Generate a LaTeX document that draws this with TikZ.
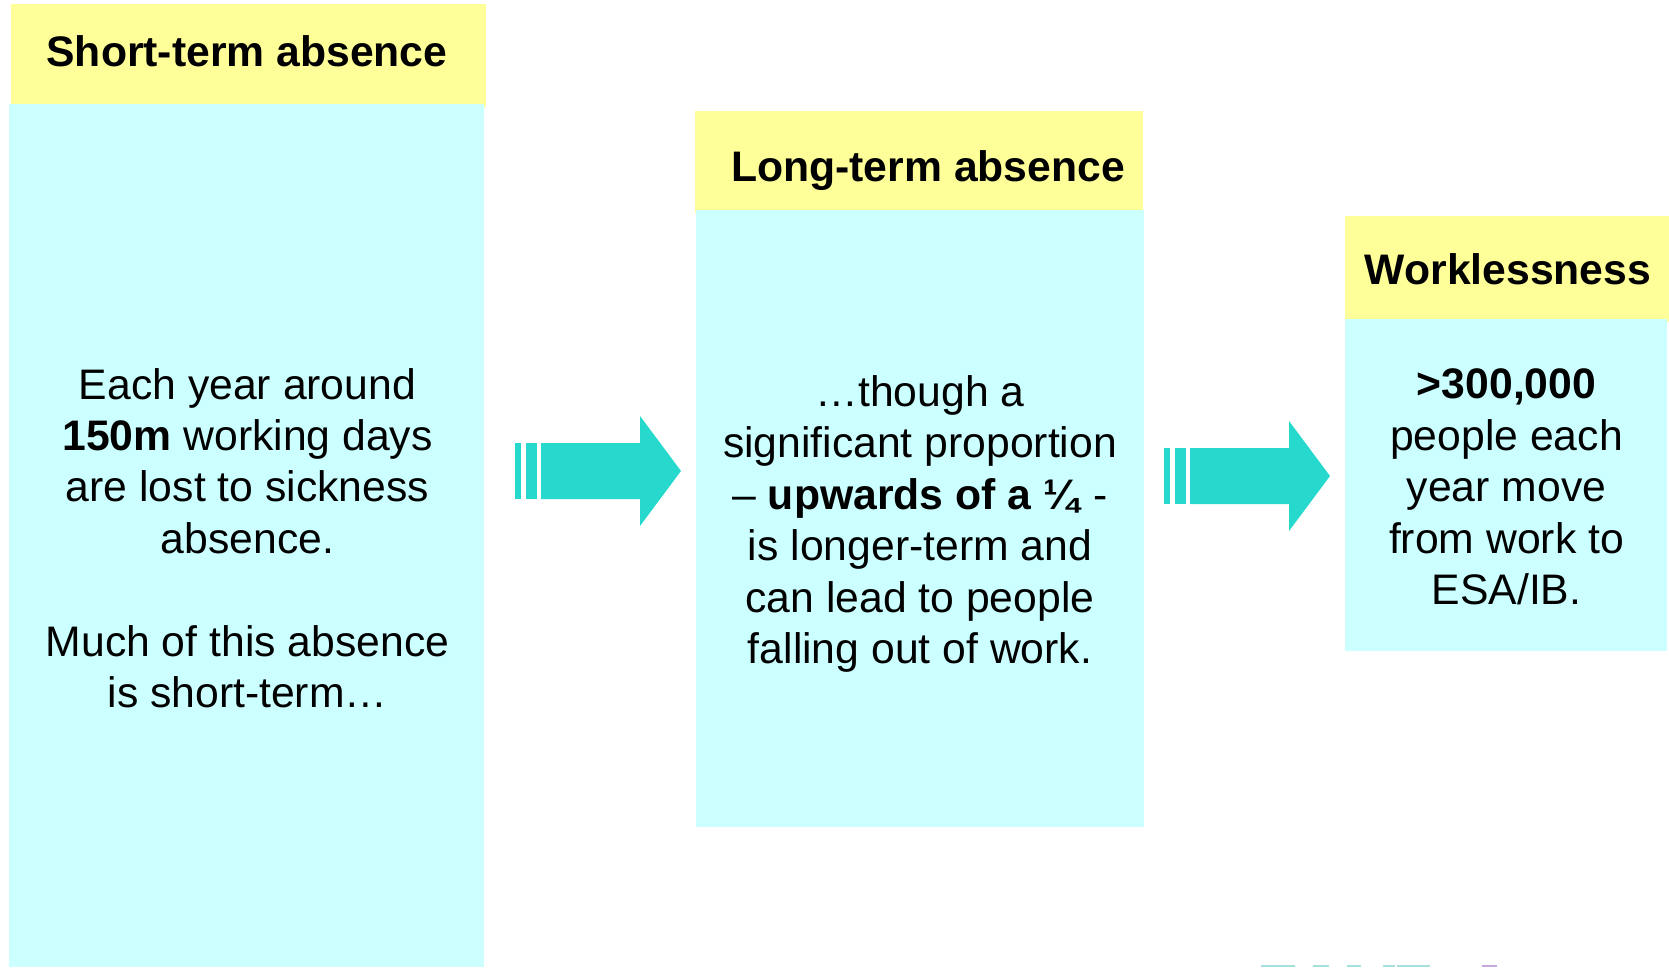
\documentclass[tikz,border=0pt]{standalone}
\usepackage{fontspec}
\setmainfont{Liberation Sans}
\definecolor{hdr}{HTML}{FFFF99}
\definecolor{bodyc}{HTML}{CCFFFF}
\definecolor{arrowc}{HTML}{26D9CC}
\definecolor{fragteal}{HTML}{A5E0DC}
\definecolor{fragpurple}{HTML}{C9A8E0}
\tikzset{
  hdrbox/.style={fill=hdr,draw=none},
  bodybox/.style={fill=bodyc,draw=none},
  arrowpart/.style={fill=arrowc,draw=none},
  bodytext/.style={align=center,inner sep=0pt,font=\fontsize{42.7}{51.4}\selectfont},
  hdrtext/.style={inner sep=0pt,font=\fontsize{42.7}{46}\selectfont\bfseries}
}
\newcommand{\flowarrow}[2]{%
  \begin{scope}[shift={(#1,#2)}]
    \fill[arrowpart] (515,443) rectangle (521,499);
    \fill[arrowpart] (526,443) rectangle (537,499);
    \fill[arrowpart] (541,443) -- (640,443) -- (640,416) -- (681,471) -- (640,526) -- (640,499) -- (541,499) -- cycle;
  \end{scope}}
\begin{document}
\begin{tikzpicture}[x=1pt,y=-1pt]
\useasboundingbox (0,0) rectangle (1669,967);
\fill[hdrbox] (11,4) rectangle (486,107);
\fill[bodybox] (9,104) rectangle (484,967);
\fill[hdrbox] (695,111) rectangle (1143,213);
\fill[bodybox] (696,210) rectangle (1144,827);
\fill[hdrbox] (1345,216) rectangle (1669,322);
\fill[bodybox] (1345,319) rectangle (1667,651);
\flowarrow{0}{0}
\flowarrow{649}{5}
\fill[fragteal] (1261,965) rectangle (1295,967);
\fill[fragteal] (1313,965) rectangle (1329,967);
\fill[fragteal] (1347,965) rectangle (1361,967);
\fill[fragteal] (1383,965) rectangle (1395,967);
\fill[fragteal] (1397,965) rectangle (1430,967);
\fill[fragpurple] (1482,965) rectangle (1497,967);
\node[hdrtext] (h1) at (247,51) {Short-term absence};
\node[hdrtext] (h2) at (928,171) {Long-term absence};
\node[hdrtext] (h3) at (1508,269) {Worklessness};
\node[bodytext] (t1) at (247.5,538) {Each year around\\\textbf{150m} working days\\are lost to sickness\\absence.\\[51.4pt]Much of this absence\\is short-term…};
\node[bodytext] (t2) at (920,524) {…though a\\significant proportion\\– \textbf{upwards of a ¼} -\\is longer-term and\\can lead to people\\falling out of work.};
\node[bodytext] (t3) at (1506.5,487) {\textbf{>300,000}\\people each\\year move\\from work to\\ESA/IB.};
\end{tikzpicture}
\end{document}
